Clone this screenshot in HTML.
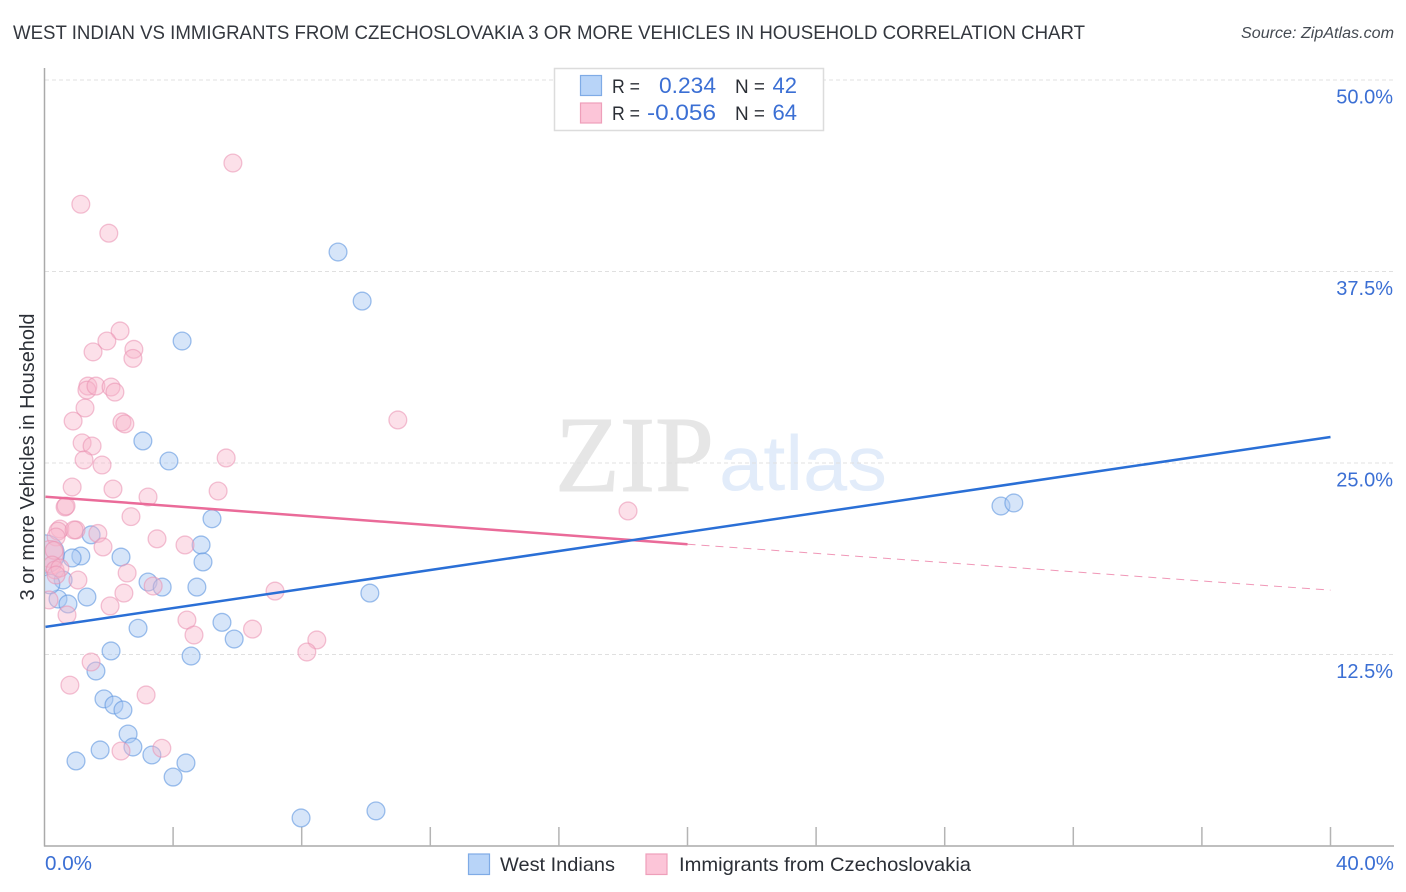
<!DOCTYPE html>
<html lang="en">
<head>
<meta charset="utf-8">
<title>West Indian vs Immigrants from Czechoslovakia correlation chart</title>
<style>
html,body{margin:0;padding:0;background:#fff;width:1406px;height:892px;overflow:hidden}
svg{display:block;font-family:"Liberation Sans",sans-serif}
</style>
</head>
<body>
<svg id="chart" xmlns="http://www.w3.org/2000/svg" width="1406" height="892" viewBox="0 0 1406 892">
  <defs><clipPath id="plot-clip"><rect x="45" y="60" width="1350" height="786"/></clipPath></defs>
  <rect x="0" y="0" width="1406" height="892" fill="#ffffff"/>
  <text x="13" y="39" font-size="19.5" fill="#33373e" textLength="1072" lengthAdjust="spacingAndGlyphs">WEST INDIAN VS IMMIGRANTS FROM CZECHOSLOVAKIA 3 OR MORE VEHICLES IN HOUSEHOLD CORRELATION CHART</text>
  <text x="1394" y="38" font-size="15.5" font-style="italic" fill="#444a52" text-anchor="end" textLength="153" lengthAdjust="spacingAndGlyphs">Source: ZipAtlas.com</text>
  <g>
    <text x="555" y="491" font-family="'Liberation Serif',serif" font-size="108" fill="#e6e6e6" stroke="#e6e6e6" stroke-width="1" textLength="159" lengthAdjust="spacingAndGlyphs">ZIP</text>
    <text x="719" y="490" font-size="78" fill="#e2ecfa" textLength="168" lengthAdjust="spacingAndGlyphs">atlas</text>
  </g>
  <g id="grid"></g>
  <g id="axes"></g>
  <g id="ylabels"></g>
  <g id="points" clip-path="url(#plot-clip)"></g>
  <g id="trends"></g>
  <text transform="translate(34,457) rotate(-90)" font-size="20" fill="#2b2f36" text-anchor="middle" textLength="287" lengthAdjust="spacingAndGlyphs">3 or more Vehicles in Household</text>
  <text x="45" y="870" font-size="20" fill="#3b6fd4" textLength="47" lengthAdjust="spacingAndGlyphs">0.0%</text>
  <text x="1394" y="870" font-size="20" fill="#3b6fd4" text-anchor="end" textLength="58" lengthAdjust="spacingAndGlyphs">40.0%</text>
  <g>
    <rect x="554.5" y="68.5" width="269" height="62" fill="#ffffff" stroke="#dcdcdc" stroke-width="1.5"/>
    <rect x="580.5" y="75.5" width="21" height="20" fill="#b8d4f8" stroke="#7fabe6" stroke-width="1.2"/>
    <rect x="580.5" y="103" width="21" height="20" fill="#fcc5d8" stroke="#ee9fba" stroke-width="1.2"/>
    <text x="612" y="93" font-size="19" fill="#2b2f36" textLength="28" lengthAdjust="spacingAndGlyphs">R =</text>
    <text x="716" y="93" font-size="22" fill="#3b6fd4" text-anchor="end" textLength="57" lengthAdjust="spacingAndGlyphs">0.234</text>
    <text x="735" y="93" font-size="19" fill="#2b2f36" textLength="30" lengthAdjust="spacingAndGlyphs">N =</text>
    <text x="797" y="93" font-size="22" fill="#3b6fd4" text-anchor="end">42</text>
    <text x="612" y="120" font-size="19" fill="#2b2f36" textLength="28" lengthAdjust="spacingAndGlyphs">R =</text>
    <text x="716" y="120" font-size="22" fill="#3b6fd4" text-anchor="end" textLength="69" lengthAdjust="spacingAndGlyphs">-0.056</text>
    <text x="735" y="120" font-size="19" fill="#2b2f36" textLength="30" lengthAdjust="spacingAndGlyphs">N =</text>
    <text x="797" y="120" font-size="22" fill="#3b6fd4" text-anchor="end">64</text>
  </g>
  <g>
    <rect x="468.5" y="854" width="21" height="20.5" fill="#b8d4f8" stroke="#7fabe6" stroke-width="1.2"/>
    <text x="500" y="871" font-size="19.5" fill="#2b2f36" textLength="115" lengthAdjust="spacingAndGlyphs">West Indians</text>
    <rect x="646" y="854" width="21" height="20.5" fill="#fcc5d8" stroke="#ee9fba" stroke-width="1.2"/>
    <text x="679" y="871" font-size="19.5" fill="#2b2f36" textLength="292" lengthAdjust="spacingAndGlyphs">Immigrants from Czechoslovakia</text>
  </g>
</svg>
<script>
/* Data values, in percent */
const xTickValues = [4,8,12,16,20,24,28,32,36,40];
const yTickValues = [12.5,25,37.5,50];
const yTickLabels = ["12.5%","25.0%","37.5%","50.0%"];

const westIndianX = [9.13,9.88,4.28,3.06,3.87,5.21,1.45,4.87,4.93,2.38,1.13,0.86,0.58,3.22,3.66,4.74,10.12,1.32,0.42,0.73,5.52,2.91,5.9,2.07,4.56,1.6,1.85,2.16,2.44,2.6,2.75,1.73,3.34,0.98,4.4,4,7.98,10.31,29.75,30.15,0.02,0.17];
const westIndianY = [38.77,35.57,32.96,26.44,25.13,21.36,20.31,19.65,18.54,18.86,18.93,18.8,17.36,17.23,16.9,16.9,16.51,16.25,16.12,15.8,14.6,14.21,13.51,12.73,12.4,11.42,9.6,9.2,8.88,7.31,6.46,6.27,5.94,5.55,5.42,4.5,1.83,2.29,22.19,22.39,19.06,17.1];
const westIndianWeight = [1,1,1,1,1,1,1,1,1,1,1,1,1,1,1,1,1,1,1,1,1,1,1,1,1,1,1,1,1,1,1,1,1,1,1,1,1,1,1,1,2.15,1.1];

const czechX = [5.86,1.13,2,2.35,1.94,1.51,2.78,2.75,1.35,1.32,1.6,2.07,2.19,1.26,0.89,2.41,2.5,10.99,1.17,1.48,1.23,1.79,5.65,0.86,2.13,5.4,3.22,0.64,0.67,2.69,18.15,0.48,0.42,0.98,0.92,0.36,1.66,3.5,4.37,1.82,0.17,0.3,0.24,0.33,0.48,2.57,1.04,3.38,7.17,2.47,0.14,2.04,0.7,4.43,4.65,6.47,8.47,8.16,1.45,0.79,3.16,3.65,2.38,0.36];
const czechY = [44.58,41.89,40,33.62,32.96,32.25,32.42,31.83,30.02,29.76,30.02,29.96,29.63,28.59,27.74,27.68,27.55,27.81,26.31,26.11,25.2,24.87,25.33,23.43,23.3,23.17,22.78,22.13,22.19,21.5,21.87,20.69,20.55,20.63,20.63,20.17,20.4,20.05,19.65,19.52,19.06,19.3,18.34,18.02,18.15,17.82,17.36,16.97,16.64,16.51,16.06,15.67,15.08,14.75,13.77,14.16,13.45,12.66,12.01,10.5,9.86,6.38,6.2,17.69];
const czechWeight = [1,1,1,1,1,1,1,1,1,1,1,1,1,1,1,1,1,1,1,1,1,1,1,1,1,1,1,1,1,1,1,1,1,1,1,1,1,1,1,1,1.5,1,1,1,1,1,1,1,1,1,1,1,1,1,1,1,1,1,1,1,1,1,1,1];

const blueTrendX = [0,40];
const blueTrendY = [14.3,26.7];
const pinkTrendX = [0,20];
const pinkTrendY = [22.8,19.7];
const pinkDashX = [20,40];
const pinkDashY = [19.7,16.7];

/* Axis functions */
function xScale(v){ return 44.5 + v * 32.15; }
function yScale(v){ return 846 - v * 15.32; }
function rScale(w){ return 8.9 * w; }

const SVGNS = "http://www.w3.org/2000/svg";
function mk(tag, attrs, parent){
  const el = document.createElementNS(SVGNS, tag);
  for (const k in attrs) el.setAttribute(k, attrs[k]);
  parent.appendChild(el);
  return el;
}

const grid = document.getElementById('grid');
const axes = document.getElementById('axes');
const ylabels = document.getElementById('ylabels');
const points = document.getElementById('points');
const trends = document.getElementById('trends');

yTickValues.forEach(function(v, i){
  const line = mk('line', {x1:45, x2:1394, y1:yScale(v), y2:yScale(v), stroke:'#e0e0e0', 'stroke-width':1, 'stroke-dasharray':'4 3'}, grid);
  
  
  const label = mk('text', {x:1393, y:yScale(v)+23.5, 'font-size':20, fill:'#3b6fd4', 'text-anchor':'end'}, ylabels);
  label.textContent = yTickLabels[i];
  
  
});

const yAxis = mk('line', {x1:44.5, x2:44.5, y1:68, y2:846.5, stroke:'#aaaaaa', 'stroke-width':1.5}, axes);


const xAxis = mk('line', {x1:44, x2:1394, y1:846, y2:846, stroke:'#aaaaaa', 'stroke-width':1.5}, axes);


xTickValues.forEach(function(v){
  const tick = mk('line', {x1:xScale(v), x2:xScale(v), y1:827, y2:846, stroke:'#b4b4b4', 'stroke-width':1.5}, axes);
  
  
});

westIndianX.forEach(function(v, i){
  const c = mk('circle', {cx:xScale(v), cy:yScale(westIndianY[i]), r:rScale(westIndianWeight[i]), fill:'#a9c9f3', 'fill-opacity':0.48, stroke:'#5f96e0', 'stroke-opacity':0.6, 'stroke-width':1.3}, points);
  
  
});
czechX.forEach(function(v, i){
  const c = mk('circle', {cx:xScale(v), cy:yScale(czechY[i]), r:rScale(czechWeight[i]), fill:'#f9b4cb', 'fill-opacity':0.42, stroke:'#ea8fb0', 'stroke-opacity':0.55, 'stroke-width':1.3}, points);
  
  
});

const pinkDash = mk('line', {x1:xScale(pinkDashX[0]), y1:yScale(pinkDashY[0]), x2:xScale(pinkDashX[1]), y2:yScale(pinkDashY[1]), stroke:'#ea6b99', 'stroke-width':1, 'stroke-dasharray':'8 6', 'stroke-opacity':0.7}, trends);


const pinkLine = mk('line', {x1:xScale(pinkTrendX[0])+1, y1:yScale(pinkTrendY[0]), x2:xScale(pinkTrendX[1]), y2:yScale(pinkTrendY[1]), stroke:'#ea6b99', 'stroke-width':2.5}, trends);


const blueLine = mk('line', {x1:xScale(blueTrendX[0])+1, y1:yScale(blueTrendY[0]), x2:xScale(blueTrendX[1]), y2:yScale(blueTrendY[1]), stroke:'#2a6fd6', 'stroke-width':2.5}, trends);


</script>
</body>
</html>
